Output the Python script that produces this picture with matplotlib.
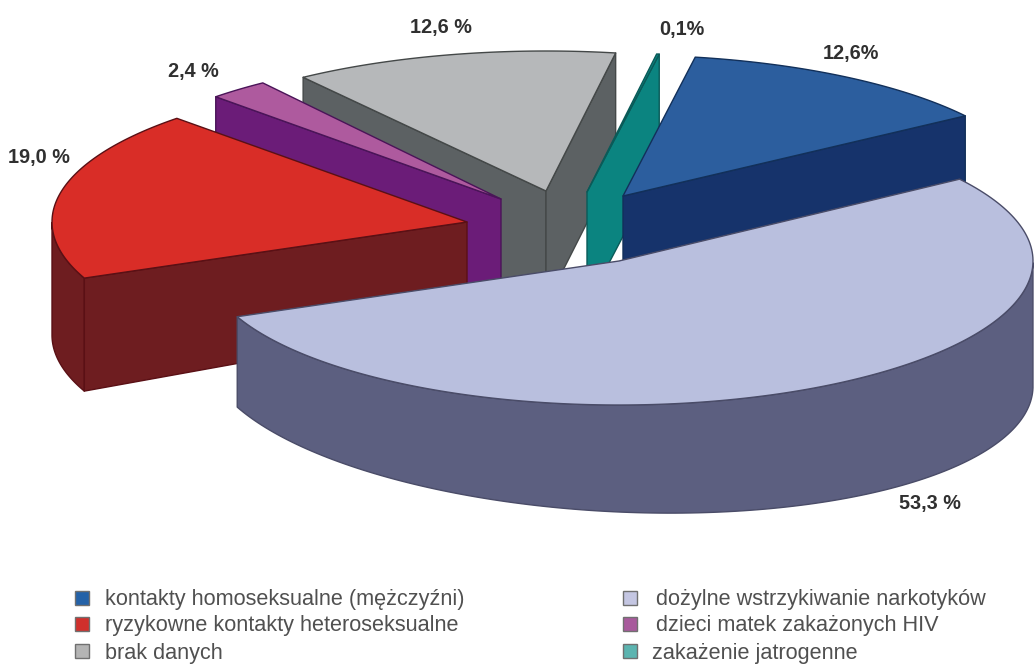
import numpy as np
import matplotlib
matplotlib.use("Agg")
import matplotlib.pyplot as plt
from matplotlib.patches import Polygon, Rectangle

plt.rcParams['font.family'] = ['Liberation Sans', 'DejaVu Sans']

categories = ["kontakty homoseksualne (mężczyźni)",
              "dożylne wstrzykiwanie narkotyków",
              "ryzykowne kontakty heteroseksualne",
              "dzieci matek zakażonych HIV",
              "brak danych",
              "zakażenie jatrogenne"]
values = [12.6, 53.3, 19.0, 2.4, 12.6, 0.1]
labels = ["12,6%", "53,3 %", "19,0 %", "2,4 %", "12,6 %", "0,1%"]

top_colors = ["#2C5E9E", "#B9BFDE", "#D92D27", "#AE5A9E", "#B6B8BA", "#0B8480"]
side_colors = ["#16336B", "#5C5F80", "#6E1D20", "#6B1C78", "#5C6163", "#0B8480"]
edge_colors = ["#12305A", "#4A4C68", "#5A1015", "#4A1458", "#444848", "#0A5A58"]
legend_colors = ["#2462A8", "#C4C6E2", "#D0302C", "#A85A9C", "#B4B4B4", "#5CB4B0"]

start_angle = 80.0

# apex x, apex y, rx, ry, depth at rim, change of depth with cos, depth at apex
geometry = [
    (623, 196, 416, 141, 113, 0, 113),
    (619, 261, 414, 144, 107, 18, 107),
    (467, 222, 415, 145, 113, 0, 100),
    (501, 199, 408, 143, 113, 0, 113),
    (546, 191, 416, 140, 113, 0, 113),
    (587, 192, 416, 140, 113, 0, 113),
]
draw_order = [4, 3, 2, 5, 0, 1]

label_pos = [(851, 53), (930, 504), (39, 157), (193, 72), (441, 27), (682, 30)]
legend_xy = [(75, 598), (623, 598), (75, 624), (623, 624), (75, 651), (623, 651)]
legend_text_x = [105, 656, 105, 656, 105, 652]


def rim(g, t):
    x = g[0] + g[2] * np.cos(t)
    y = g[1] - g[3] * np.sin(t)
    return x, y


def draw_slice(ax, i, t1, t2):
    g = geometry[i]
    ts = np.radians(np.linspace(t1, t2, 180))
    x, y = rim(g, ts)
    depth = g[4] + g[5] * np.cos(ts)
    edge = dict(edgecolor=edge_colors[i], linewidth=1.0, joinstyle='round')

    # outer wall, only the front part of the rim
    front = np.sin(ts) <= 0
    if front.any():
        pts = np.vstack([np.column_stack([x[front], y[front]]),
                         np.column_stack([x[front], (y + depth)[front]])[::-1]])
        ax.add_patch(Polygon(pts, facecolor=side_colors[i], **edge))

    # radial walls that face the viewer
    for k, visible in ((0, np.cos(ts[0]) < 0), (-1, np.cos(ts[-1]) > 0)):
        if visible:
            pts = [(g[0], g[1]), (x[k], y[k]), (x[k], y[k] + depth[k]), (g[0], g[1] + g[6])]
            ax.add_patch(Polygon(pts, facecolor=side_colors[i], **edge))

    # top
    pts = np.vstack([[(g[0], g[1])], np.column_stack([x, y])])
    ax.add_patch(Polygon(pts, facecolor=top_colors[i], **edge))


fig = plt.figure(figsize=(10.34, 6.66), dpi=100)
ax = fig.add_axes([0, 0, 1, 1])
ax.set_xlim(0, 1034)
ax.set_ylim(666, 0)
ax.axis('off')

sweep = np.array(values) / sum(values) * 360
t_start = start_angle - np.concatenate([[0], np.cumsum(sweep)[:-1]])

for i in draw_order:
    draw_slice(ax, i, t_start[i], t_start[i] - sweep[i])

for i in range(len(labels)):
    ax.text(label_pos[i][0], label_pos[i][1], labels[i], fontsize=14.3, fontweight='bold',
            color='#303030', ha='center', va='center')

for i in range(len(categories)):
    lx, ly = legend_xy[i]
    ax.add_patch(Rectangle((lx, ly - 7), 14, 14, facecolor=legend_colors[i],
                           edgecolor='#707070', linewidth=1))
    ax.text(legend_text_x[i], ly + 2, categories[i], fontsize=15.6, color='#505050',
            ha='left', va='center')

fig.savefig('out.png', dpi=100)
